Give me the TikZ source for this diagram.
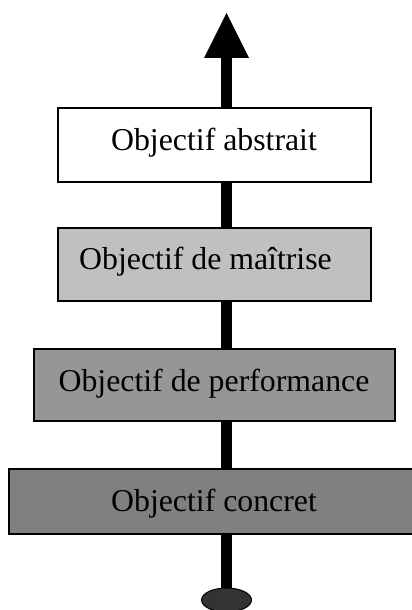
\documentclass[tikz,border=0pt]{standalone}
\usepackage{fontspec}
\setmainfont{Liberation Serif}
\usetikzlibrary{backgrounds,shapes.geometric}
\definecolor{g1}{HTML}{C0C0C0}
\definecolor{g2}{HTML}{969696}
\definecolor{g3}{HTML}{808080}
\definecolor{g4}{HTML}{333333}
\begin{document}
\begin{tikzpicture}[x=1pt,y=-1pt,
  levelbox/.style={draw=black,line width=1.5pt,rectangle,inner sep=0pt,outer sep=0pt},
  lbl/.style={anchor=base,inner sep=0pt,font=\fontsize{31.8}{38}\selectfont}]
\useasboundingbox (0,0) rectangle (412,610);
% foot ellipse and arrow head
\node[ellipse,draw=black,line width=1pt,fill=g4,minimum width=50pt,minimum height=24pt,inner sep=0pt] (foot) at (226.5,600) {};
\coordinate (tip) at (226.5,13);
\coordinate (hb) at (226.5,58);
\coordinate (hl) at (204,58);
\coordinate (hr) at (249,58);
\fill[black] (tip) -- (hl) -- (hr) -- cycle;
\begin{scope}[on background layer]
\fill[white] (0,0) rectangle (412,610);
\draw[line width=11.5pt] (foot.center) -- (hb);
\end{scope}
% boxes
\node[levelbox,fill=white,minimum width=313pt,minimum height=74pt] (b1) at (214.5,145) {};
\node[levelbox,fill=g1,minimum width=313pt,minimum height=73pt] (b2) at (214.5,264.5) {};
\node[levelbox,fill=g2,minimum width=361pt,minimum height=72pt] (b3) at (214.5,385) {};
\node[levelbox,fill=g3,minimum width=405pt,minimum height=65pt] (b4) at (211.5,501.5) {};
% labels
\node[lbl] (t1) at (214,150) {Objectif abstrait};
\node[lbl] (t2) at (205.5,269) {Objectif de maîtrise};
\node[lbl] (t3) at (214,391) {Objectif de performance};
\node[lbl] (t4) at (214,511) {Objectif concret};
\end{tikzpicture}
\end{document}
